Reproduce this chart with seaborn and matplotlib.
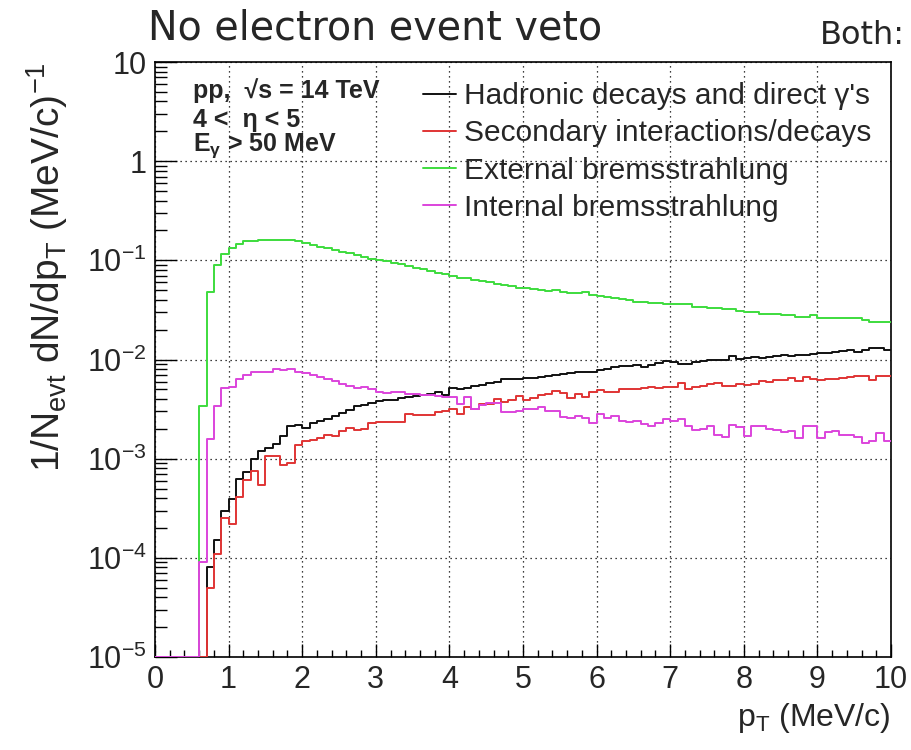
import numpy as np
import pandas as pd
import matplotlib
matplotlib.use("Agg")
import matplotlib.pyplot as plt
import seaborn as sns
from matplotlib.lines import Line2D
from matplotlib.ticker import MultipleLocator, FixedLocator, LogLocator, NullFormatter

# 100 bins of 0.1 MeV/c between 0 and 10
pt_edges = np.round(np.arange(0, 10.05, 0.1), 2)
pt_centers = 0.5 * (pt_edges[:-1] + pt_edges[1:])

# 1/Nevt dN/dpT, one value per bin
hadronic = [
    0, 0, 0, 0, 0, 0, 0, 8.0e-5, 1.5e-4, 2.96e-4,
    3.9e-4, 6.2e-4, 7.3e-4, 1.0e-3, 1.19e-3, 1.29e-3, 1.39e-3, 1.69e-3, 2.16e-3, 2.2e-3,
    2.05e-3, 2.3e-3, 2.38e-3, 2.54e-3, 2.68e-3, 2.9e-3, 3.13e-3, 3.38e-3, 3.5e-3, 3.65e-3,
    3.8e-3, 3.95e-3, 3.9e-3, 4.08e-3, 4.17e-3, 4.28e-3, 4.4e-3, 4.5e-3, 4.69e-3, 4.4e-3,
    5.1e-3, 5.0e-3, 5.1e-3, 5.4e-3, 5.55e-3, 5.8e-3, 5.9e-3, 6.4e-3, 6.4e-3, 6.4e-3,
    6.5e-3, 6.5e-3, 6.65e-3, 6.8e-3, 7.0e-3, 7.2e-3, 7.3e-3, 7.45e-3, 7.55e-3, 7.55e-3,
    7.9e-3, 8.0e-3, 8.4e-3, 8.5e-3, 8.5e-3, 8.85e-3, 8.45e-3, 8.85e-3, 9.25e-3, 9.55e-3,
    9.4e-3, 9.05e-3, 9.05e-3, 9.4e-3, 9.55e-3, 9.8e-3, 9.85e-3, 1.0e-2, 1.08e-2, 1.02e-2,
    1.03e-2, 1.05e-2, 1.03e-2, 1.055e-2, 1.08e-2, 1.1e-2, 1.08e-2, 1.1e-2, 1.11e-2, 1.14e-2,
    1.17e-2, 1.17e-2, 1.19e-2, 1.22e-2, 1.26e-2, 1.2e-2, 1.26e-2, 1.3e-2, 1.3e-2, 1.26e-2,
]
secondary = [
    0, 0, 0, 0, 0, 0, 0, 5.0e-5, 1.1e-4, 2.5e-4,
    2.17e-4, 4.1e-4, 6.1e-4, 7.5e-4, 5.4e-4, 1.06e-3, 1.06e-3, 8.7e-4, 9.0e-4, 1.36e-3,
    1.5e-3, 1.56e-3, 1.62e-3, 1.75e-3, 1.69e-3, 1.89e-3, 2.05e-3, 1.94e-3, 2.0e-3, 2.3e-3,
    2.33e-3, 2.33e-3, 2.34e-3, 2.34e-3, 2.84e-3, 2.73e-3, 2.73e-3, 2.73e-3, 2.95e-3, 3.05e-3,
    3.18e-3, 2.84e-3, 3.31e-3, 3.14e-3, 3.58e-3, 3.58e-3, 3.96e-3, 3.72e-3, 3.86e-3, 4.28e-3,
    3.86e-3, 4.08e-3, 4.35e-3, 4.5e-3, 4.76e-3, 4.6e-3, 4.08e-3, 4.5e-3, 4.17e-3, 4.69e-3,
    4.88e-3, 4.69e-3, 4.69e-3, 5.07e-3, 5.07e-3, 5.07e-3, 5.2e-3, 5.26e-3, 5.15e-3, 5.26e-3,
    5.26e-3, 5.82e-3, 5.07e-3, 5.26e-3, 5.4e-3, 5.69e-3, 5.82e-3, 5.4e-3, 5.4e-3, 5.69e-3,
    5.55e-3, 5.69e-3, 6.01e-3, 5.9e-3, 6.15e-3, 6.15e-3, 6.49e-3, 6.01e-3, 6.64e-3, 6.3e-3,
    6.15e-3, 6.3e-3, 6.4e-3, 6.49e-3, 6.64e-3, 6.8e-3, 6.8e-3, 6.15e-3, 6.8e-3, 6.8e-3,
]
external = [
    0, 0, 0, 0, 0, 0, 0.0034, 0.048, 0.089, 0.115,
    0.132, 0.146, 0.155, 0.158, 0.161, 0.162, 0.162, 0.161, 0.159, 0.155,
    0.148, 0.143, 0.137, 0.132, 0.127, 0.122, 0.118, 0.112, 0.108, 0.104,
    0.101, 0.098, 0.094, 0.091, 0.088, 0.084, 0.081, 0.078, 0.075, 0.072,
    0.069, 0.067, 0.066, 0.064, 0.062, 0.060, 0.058, 0.057, 0.055, 0.053,
    0.052, 0.051, 0.050, 0.049, 0.050, 0.048, 0.047, 0.047, 0.048, 0.045,
    0.044, 0.043, 0.042, 0.041, 0.040, 0.038, 0.038, 0.037, 0.037, 0.036,
    0.036, 0.036, 0.036, 0.034, 0.034, 0.033, 0.033, 0.032, 0.032, 0.031,
    0.030, 0.030, 0.029, 0.029, 0.029, 0.028, 0.028, 0.027, 0.027, 0.028,
    0.026, 0.026, 0.026, 0.026, 0.026, 0.026, 0.025, 0.024, 0.024, 0.024,
]
internal = [
    0, 0, 0, 0, 0, 0, 9.0e-5, 1.58e-3, 3.4e-3, 5.1e-3,
    5.3e-3, 6.4e-3, 6.9e-3, 7.45e-3, 7.5e-3, 7.45e-3, 8.05e-3, 7.8e-3, 8.05e-3, 7.5e-3,
    7.3e-3, 6.9e-3, 6.6e-3, 6.3e-3, 6.05e-3, 5.7e-3, 5.4e-3, 5.1e-3, 5.3e-3, 5.0e-3,
    4.75e-3, 4.6e-3, 4.7e-3, 4.7e-3, 4.5e-3, 4.45e-3, 4.35e-3, 4.35e-3, 4.3e-3, 4.2e-3,
    4.2e-3, 3.6e-3, 4.2e-3, 3.2e-3, 3.5e-3, 3.65e-3, 3.65e-3, 2.95e-3, 2.95e-3, 3.05e-3,
    3.15e-3, 3.2e-3, 3.3e-3, 3.05e-3, 3.05e-3, 2.65e-3, 2.55e-3, 2.7e-3, 2.6e-3, 2.3e-3,
    2.85e-3, 2.55e-3, 2.7e-3, 2.4e-3, 2.35e-3, 2.4e-3, 2.25e-3, 2.15e-3, 2.3e-3, 2.5e-3,
    2.4e-3, 2.5e-3, 2.15e-3, 1.93e-3, 1.97e-3, 2.15e-3, 1.75e-3, 1.65e-3, 2.2e-3, 2.1e-3,
    1.68e-3, 2.15e-3, 2.15e-3, 2.0e-3, 1.93e-3, 1.85e-3, 1.88e-3, 1.6e-3, 2.15e-3, 2.15e-3,
    1.6e-3, 1.85e-3, 1.88e-3, 1.75e-3, 1.72e-3, 1.65e-3, 1.45e-3, 1.5e-3, 1.8e-3, 1.5e-3,
]

series_labels = [
    "Hadronic decays and direct \u03b3's",
    "Secondary interactions/decays",
    "External bremsstrahlung",
    "Internal bremsstrahlung",
]
series_values = [hadronic, secondary, external, internal]
series_colors = ["#111111", "#e03434", "#3ddc3d", "#dc44dc"]

y_ticks = [1e-5, 1e-4, 1e-3, 1e-2, 1e-1, 1, 10]
y_tick_labels = ["$\\mathregular{10^{-5}}$", "$\\mathregular{10^{-4}}$", "$\\mathregular{10^{-3}}$",
                 "$\\mathregular{10^{-2}}$", "$\\mathregular{10^{-1}}$", "1", "10"]

sns.set_style("ticks")
plt.rcParams["font.family"] = ["Liberation Sans", "DejaVu Sans"]
plt.rcParams["mathtext.fontset"] = "custom"
plt.rcParams["mathtext.rm"] = "Liberation Sans"
plt.rcParams["mathtext.it"] = "Liberation Sans:italic"
plt.rcParams["mathtext.bf"] = "Liberation Sans:bold"

fig = plt.figure(figsize=(9.12, 7.5), dpi=100)
ax = fig.add_axes([155 / 912, 1 - 657 / 750, 736 / 912, 595 / 750])

y_floor = 1e-5  # empty bins sit on the bottom of the frame, as in ROOT
for name, vals, col in zip(series_labels, series_values, series_colors):
    df = pd.DataFrame({"pt": pt_centers, "w": np.clip(vals, y_floor, None)})
    sns.histplot(data=df, x="pt", weights="w", bins=list(pt_edges),
                 element="step", fill=False, color=col, linewidth=1.4, ax=ax, zorder=3)

ax.set_yscale("log")
ax.set_xlim(0, 10)
ax.set_ylim(1e-5, 10)

ax.xaxis.set_major_locator(MultipleLocator(1))
ax.xaxis.set_minor_locator(MultipleLocator(0.2))
ax.yaxis.set_major_locator(FixedLocator(y_ticks))
ax.set_yticklabels(y_tick_labels)
ax.yaxis.set_minor_locator(LogLocator(base=10, subs=range(2, 10), numticks=20))
ax.yaxis.set_minor_formatter(NullFormatter())

ax.tick_params(which="both", direction="in", top=False, right=False, color="black", width=1)
ax.tick_params(axis="x", which="major", length=9.5, labelsize=22, pad=6)
ax.tick_params(axis="x", which="minor", length=5)
ax.tick_params(axis="y", which="major", length=16, labelsize=22, pad=6)
ax.tick_params(axis="y", which="minor", length=8.5)
for sp in ax.spines.values():
    sp.set_visible(True)
    sp.set_color("black")
    sp.set_linewidth(1.2)

ax.grid(True, which="major", color="black", linestyle=(0, (1, 3)), linewidth=0.9)

ax.set_xlabel("p$_{\\mathregular{T}}$ (MeV/c)", loc="right", fontsize=23)
ax.set_ylabel("1/N$_{\\mathregular{evt}}$ dN/dp$_{\\mathregular{T}}$ (MeV/c)$^{\\mathregular{-1}}$",
              loc="top", fontsize=28, labelpad=12)

handles = [Line2D([], [], color=c, linewidth=1.4) for c in series_colors]
ax.legend(handles, series_labels, loc="upper left", bbox_to_anchor=(423 / 912, 1 - 82 / 750),
          bbox_transform=fig.transFigure, frameon=False, fontsize=21.5, borderpad=0,
          borderaxespad=0, handlelength=1.1, handletextpad=0.27, labelspacing=0.31)

fig.text(193 / 912, 1 - 91 / 750, "pp,  \u221as = 14 TeV", fontsize=18, fontweight="bold", va="center")
fig.text(193 / 912, 1 - 120 / 750, "4 <  \u03b7 < 5", fontsize=18, fontweight="bold", va="center")
fig.text(193 / 912, 1 - 146 / 750, "E$_{\\mathbf{\u03b3}}$ > 50 MeV", fontsize=18, fontweight="bold", va="center")

fig.text(148 / 912, 1 - 29 / 750, "No electron event veto", fontsize=28.5, family="DejaVu Sans", va="center")
fig.text(905 / 912, 1 - 35 / 750, "Both:", fontsize=23, family="DejaVu Sans", va="center", ha="right")

fig.savefig("out.png", dpi=100, facecolor="white")
